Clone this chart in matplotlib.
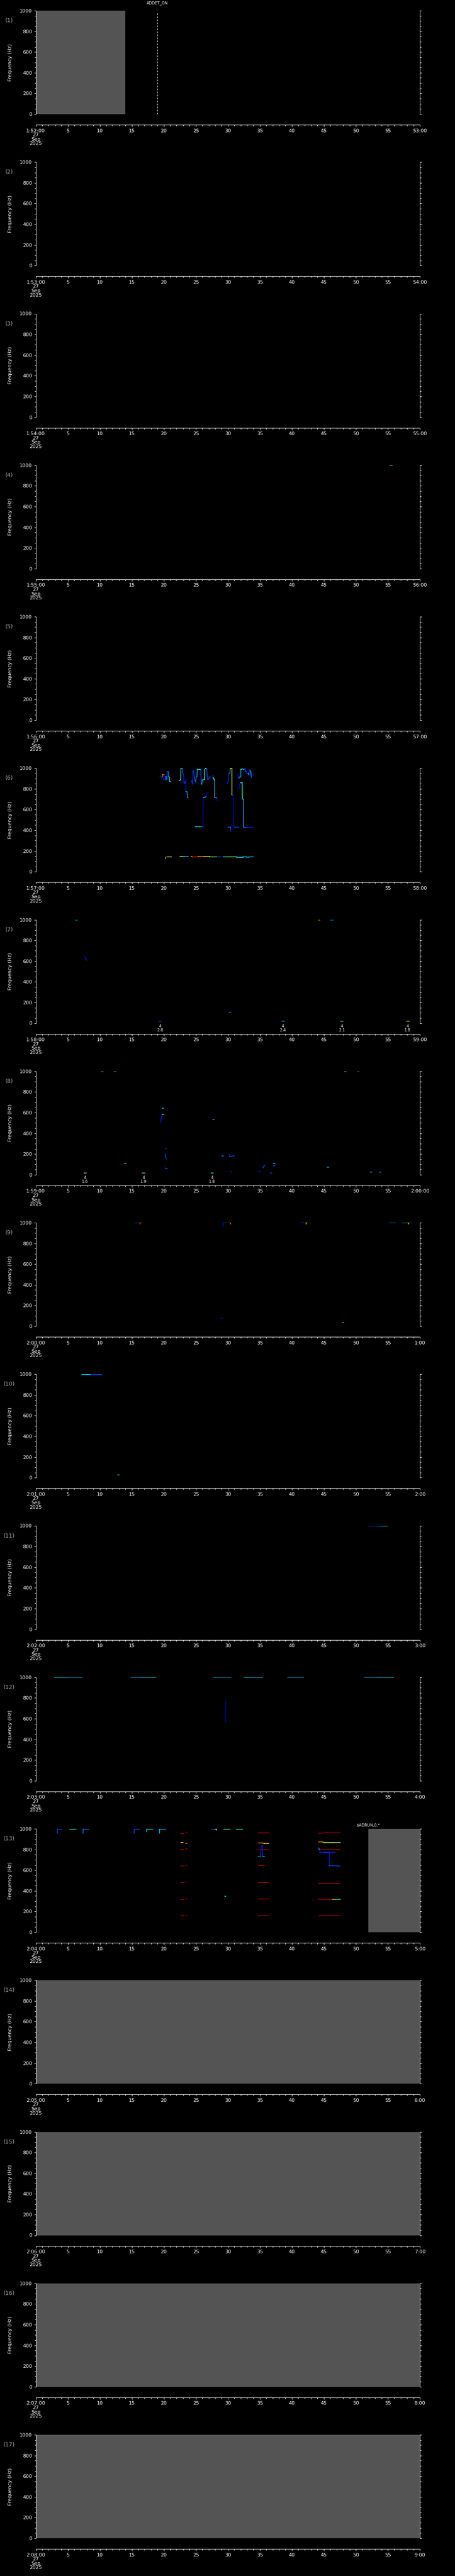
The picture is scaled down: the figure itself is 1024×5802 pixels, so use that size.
import matplotlib
matplotlib.use('Agg')
import matplotlib.pyplot as plt
from matplotlib.collections import LineCollection
from matplotlib.ticker import MultipleLocator

# ---- layout (pixels of the 1024 x 5802 output) ----
W, H = 1024, 5802
PANEL_H = 341.25
PLOT_TOP = 24
PLOT_H = 233
LEFT = 80.5
PLOT_W = 864.5

# ---- axis labels ----
start_labels = ['1:52:00', '1:53:00', '1:54:00', '1:55:00', '1:56:00', '1:57:00',
                '1:58:00', '1:59:00', '2:00:00', '2:01:00', '2:02:00', '2:03:00',
                '2:04:00', '2:05:00', '2:06:00', '2:07:00', '2:08:00']
end_labels = ['53:00', '54:00', '55:00', '56:00', '57:00', '58:00', '59:00', '2:00:00',
              '1:00', '2:00', '3:00', '4:00', '5:00', '6:00', '7:00', '8:00', '9:00']
date_label = '27\nSep\n2025'

# gray "no data" spans: (panel, start s, end s)
gray_spans = [(1, 0, 14), (13, 51.95, 60), (14, 0, 60), (15, 0, 60), (16, 0, 60), (17, 0, 60)]

# event markers: (panel, time s, label, dashed line?)
events = [(1, 19.0, 'ADDET_ON', True), (13, 51.95, '$ADRUN,0,*', False)]

# ---- traces: (times s, freqs Hz, jet level per vertex) ----
traces_p4 = [([55.3, 55.7], [998, 998], 0.45)]

traces_p6 = [
    ([19.40, 19.75, 19.82, 20.05, 20.05, 20.21, 20.21, 20.39, 20.39, 20.53, 20.53, 20.74, 20.74, 20.86, 20.90, 21.09],
     [915, 915, 939, 937, 887, 887, 918, 918, 894, 894, 965, 965, 918, 915, 872, 869],
     [0.2, 0.75, 0.75, 0.15, 0.15, 0.2, 0.2, 0.25, 0.25, 0.2, 0.2, 0.25, 0.3, 0.35, 0.35, 0.35]),
    ([22.41, 22.64, 22.68, 22.87, 22.92, 22.98, 23.10, 23.12, 23.29, 23.33, 23.45, 23.45, 23.63, 23.68, 23.79],
     [879, 889, 998, 998, 987, 944, 941, 858, 854, 872, 887, 775, 772, 718, 715],
     [0.5, 0.4, 0.35, 0.3, 0.2, 0.2, 0.15, 0.15, 0.2, 0.2, 0.12, 0.3, 0.3, 0.8, 0.8]),
    ([24.26, 24.42, 24.44, 24.56, 24.56, 24.67, 24.72, 24.84, 24.90, 25.02, 25.11, 25.18, 25.23, 25.48, 25.53,
      25.78, 25.83, 25.95, 25.99, 26.34, 26.34, 26.45, 26.52, 26.64, 26.71, 26.76, 26.85, 27.03, 27.08, 27.26],
     [875, 875, 847, 847, 975, 975, 918, 912, 879, 865, 918, 922, 990, 990, 987,
      987, 847, 847, 887, 889, 984, 994, 998, 998, 987, 937, 894, 894, 915, 915],
     [0.2, 0.2, 0.15, 0.15, 0.15, 0.2, 0.2, 0.25, 0.25, 0.2, 0.2, 0.3, 0.35, 0.5, 0.35,
      0.2, 0.3, 0.3, 0.35, 0.4, 0.35, 0.4, 0.38, 0.3, 0.2, 0.2, 0.2, 0.2, 0.25, 0.25]),
    ([27.61, 27.68, 27.68, 27.80, 27.87, 27.96, 27.96, 28.12, 28.19, 28.31, 28.35],
     [932, 932, 905, 905, 887, 887, 718, 718, 712, 712, 689],
     [0.15, 0.15, 0.3, 0.5, 0.35, 0.3, 0.3, 0.8, 0.8, 0.1, 0.1]),
    ([24.88, 25.07, 25.71, 25.81, 26.11, 26.15, 26.52, 26.64, 26.73, 26.80],
     [436, 433, 433, 436, 436, 718, 722, 722, 762, 762],
     [0.35, 0.35, 0.3, 0.25, 0.12, 0.4, 0.35, 0.12, 0.12, 0.12]),
    ([29.92, 29.99, 30.11, 30.11, 30.32, 30.39, 30.62, 30.62, 30.73, 30.85, 30.87, 31.08, 31.71],
     [854, 872, 872, 947, 951, 998, 998, 744, 739, 739, 436, 429, 429],
     [0.15, 0.15, 0.15, 0.2, 0.3, 0.6, 0.6, 0.6, 0.1, 0.1, 0.1, 0.2, 0.25]),
    ([30.04, 30.46, 30.46, 30.57], [429, 429, 393, 393], [0.25, 0.2, 0.1, 0.1]),
    ([31.57, 31.61, 31.78, 31.85, 32.01, 32.01, 32.12, 32.24, 32.47, 32.59, 32.70, 32.77, 32.93, 33.00,
      33.23, 33.23, 33.35, 33.40, 33.51, 33.58, 33.63, 33.67, 33.74, 33.97],
     [944, 908, 904, 915, 915, 987, 990, 994, 987, 990, 998, 965, 965, 951,
      951, 937, 937, 987, 975, 975, 934, 912, 930, 930],
     [0.15, 0.2, 0.2, 0.3, 0.3, 0.35, 0.38, 0.35, 0.3, 0.2, 0.2, 0.15, 0.2, 0.2,
      0.4, 0.15, 0.15, 0.15, 0.15, 0.35, 0.2, 0.2, 0.15, 0.2]),
    ([31.78, 31.85, 31.94, 32.01, 32.24, 32.28, 32.42, 32.42, 32.93, 33.97],
     [804, 844, 858, 861, 861, 701, 701, 429, 426, 429],
     [0.1, 0.15, 0.2, 0.5, 0.4, 0.32, 0.3, 0.25, 0.15, 0.45]),
    ([20.21, 20.28, 20.28, 20.55, 21.20], [131, 131, 141, 141, 141], [0.45, 0.45, 0.85, 0.6, 0.6]),
    ([22.52, 22.9, 23.3, 23.84], [146, 146, 146, 146], [0.55, 0.4, 0.3, 0.3]),
    ([24.26, 24.42, 24.42, 25.34, 25.34, 26.3, 27.15, 27.15, 28.31],
     [146, 146, 141, 141, 146, 146, 146, 141, 141],
     [0.75, 0.75, 0.88, 0.88, 0.75, 0.65, 0.65, 0.5, 0.5]),
    ([28.37, 29.00], [141, 141], 0.2),
    ([29.28, 30.3, 31.43, 31.43, 32.35, 32.35, 32.93, 32.93, 33.28, 33.28, 33.97],
     [141, 141, 141, 137, 137, 141, 141, 137, 137, 141, 141],
     [0.45, 0.55, 0.45, 0.35, 0.35, 0.4, 0.4, 0.25, 0.25, 0.35, 0.35]),
]

traces_p7 = [
    ([6.2, 6.5], [998, 998], 0.35),
    ([7.68, 7.72, 7.85, 8.0], [642, 625, 615, 609], 0.15),
    ([44.2, 44.4], [998, 998], 0.65),
    ([46.0, 46.5], [998, 998], 0.3),
    ([30.25, 30.45], [104, 104], 0.25),
    ([19.2, 19.6], [18, 18], 0.2),
    ([38.4, 38.8], [18, 18], 0.3),
    ([47.6, 48.0], [18, 18], 0.4),
    ([57.9, 58.3], [18, 18], 0.65),
]
labels_p7 = [(19.4, '4\n2.8'), (38.6, '4\n2.4'), (47.8, '4\n2.1'), (58.1, '4\n1.8')]

traces_p8 = [
    ([10.25, 10.5], [997, 997], 0.35),
    ([12.25, 12.5], [997, 997], 0.35),
    ([19.75, 19.95], [643, 643], 0.35),
    ([19.56, 19.58, 19.65, 19.72, 19.78, 20.0], [501, 540, 560, 575, 583, 583], [0.15, 0.15, 0.15, 0.2, 0.4, 0.4]),
    ([20.2, 20.35], [251, 251], 0.2),
    ([20.21, 20.21, 20.3, 20.39], [205, 185, 170, 152], 0.2),
    ([20.2, 20.28, 20.6], [65, 58, 58], 0.2),
    ([13.85, 14.1], [109, 109], 0.35),
    ([27.65, 27.85], [535, 535], 0.3),
    ([29.05, 29.3], [179, 183], 0.3),
    ([30.3, 30.3, 30.45, 31.0], [190, 177, 177, 183], 0.2),
    ([30.45, 30.65], [28, 28], 0.15),
    ([34.85, 35.0], [35, 35], 0.15),
    ([35.5, 35.55, 35.7, 35.8], [67, 75, 88, 93], 0.2),
    ([37.1, 37.4], [109, 109], 0.35),
    ([37.1, 37.4], [83, 83], 0.2),
    ([36.6, 36.9], [15, 15], 0.2),
    ([45.5, 45.8], [73, 73], 0.3),
    ([52.2, 52.5], [25, 25], 0.3),
    ([53.7, 53.9], [25, 25], 0.3),
    ([48.2, 48.5], [997, 997], 0.45),
    ([50.3, 50.5], [997, 997], 0.8),
    ([7.5, 7.9], [15, 15], 0.55),
    ([16.65, 17.05], [15, 15], 0.4),
    ([27.35, 27.75], [15, 15], 0.4),
]
labels_p8 = [(7.7, '4\n1.6'), (16.85, '4\n1.9'), (27.55, '4\n1.8')]

traces_p9 = [
    ([15.35, 16.2, 16.52], [998, 998, 998], [0.2, 0.8, 0.8]),
    ([16.3, 16.3], [998, 985], 0.8),
    ([29.25, 29.25, 30.3, 30.46], [963, 998, 998, 998], [0.15, 0.2, 0.8, 0.8]),
    ([30.4, 30.4], [998, 985], 0.8),
    ([41.25, 42.1, 42.42], [998, 998, 998], [0.2, 0.6, 0.4]),
    ([42.2, 42.2], [998, 985], 0.6),
    ([55.2, 56.25], [998, 998], 0.25),
    ([57.3, 58.2, 58.5], [998, 998, 998], [0.35, 0.6, 0.35]),
    ([58.2, 58.2], [998, 985], 0.6),
    ([28.9, 29.05], [79, 79], 0.15),
    ([47.85, 48.05], [33, 33], 0.35),
]

traces_p10 = [
    ([7.2, 8.6, 10.3], [998, 998, 998], [0.35, 0.2, 0.2]),
    ([12.8, 13.0], [27, 27], 0.35),
]

traces_p11 = [([51.9, 53.6, 55.0], [998, 998, 998], [0.2, 0.35, 0.35])]

traces_p12 = [
    ([2.9, 4.8, 7.3], [998, 998, 998], [0.35, 0.3, 0.3]),
    ([14.9, 16.5, 18.8], [998, 998, 998], [0.3, 0.35, 0.35]),
    ([27.7, 30.5], [998, 998], 0.3),
    ([32.5, 35.4], [998, 998], 0.35),
    ([39.3, 41.8], [998, 998], 0.3),
    ([51.3, 53.5, 55.9], [998, 998, 998], [0.3, 0.35, 0.35]),
    ([29.7, 29.7], [780, 560], 0.04),
]

traces_p13 = [
    ([3.39, 3.39, 4.05], [956, 996, 996], 0.2),
    ([5.30, 6.27], [996, 996], 0.38),
    ([7.37, 7.37, 8.26], [956, 996, 996], 0.25),
    ([15.35, 15.35, 16.24], [956, 996, 996], 0.2),
    ([17.30, 17.30, 18.27], [974, 996, 996], 0.35),
    ([19.32, 19.32, 20.30], [956, 996, 996], 0.32),
    ([27.42, 28.0, 28.2, 28.2], [996, 996, 996, 988], [0.2, 0.6, 0.6, 0.6]),
    ([29.37, 30.34], [996, 996], 0.38),
    ([31.32, 32.29], [996, 996], 0.38),
    ([29.5, 29.7], [349, 349], 0.38),
    # harmonic lines, first group
    ([22.67, 23.14], [952, 952], 0.95), ([23.4, 23.64], [962, 962], 0.95),
    ([22.67, 23.0], [867, 867], 0.65), ([23.4, 23.64], [857, 857], 0.75),
    ([22.67, 23.14], [800, 800], 0.95), ([23.4, 23.64], [808, 808], 0.95),
    ([22.67, 23.14], [641, 641], 0.95), ([23.4, 23.64], [648, 648], 0.95),
    ([22.67, 23.14], [479, 479], 0.95), ([23.4, 23.64], [486, 486], 0.95),
    ([22.67, 23.14], [318, 318], 0.95), ([23.4, 23.64], [322, 322], 0.95),
    ([22.67, 23.14], [157, 157], 0.95), ([23.4, 23.64], [157, 157], 0.95),
    # harmonic lines, second group
    ([34.74, 35.72, 36.38], [960, 960, 960], 0.95),
    ([34.74, 35.4, 35.72, 36.38], [862, 862, 859, 859], [0.75, 0.65, 0.65, 0.65]),
    ([34.74, 36.38], [800, 800], 0.95),
    ([34.74, 35.72], [645, 645], 0.95),
    ([34.74, 35.72, 36.38], [480, 480, 480], 0.95),
    ([34.74, 35.72, 36.38], [320, 320, 320], 0.95),
    ([34.74, 35.72, 36.38], [157, 157, 157], 0.95),
    ([34.74, 35.12, 35.21, 35.21, 35.4, 35.4, 35.72], [728, 728, 832, 832, 832, 728, 728],
     [0.3, 0.15, 0.15, 0.15, 0.15, 0.35, 0.35]),
    # harmonic lines, third group
    ([44.17, 45.14, 47.56], [956, 960, 960], 0.95),
    ([44.17, 44.6, 45.1, 46.5, 47.56], [872, 874, 868, 868, 868], [0.75, 0.7, 0.6, 0.55, 0.38]),
    ([44.17, 45.14, 47.56], [795, 800, 800], 0.95),
    ([44.17, 47.56], [473, 473], 0.95),
    ([44.17, 46.3, 46.8, 47.56], [316, 316, 316, 316], [0.95, 0.7, 0.4, 0.38]),
    ([44.17, 47.56], [157, 157], 0.95),
    ([44.17, 44.35, 44.35, 45.0, 45.0, 45.84, 45.84, 47.56],
     [815, 795, 771, 771, 771, 771, 643, 640],
     [0.3, 0.15, 0.15, 0.15, 0.3, 0.15, 0.2, 0.45]),
    ([45.0, 45.84, 45.84, 46.8], [771, 771, 771, 771], 0.15),
]

panel_traces = {4: traces_p4, 6: traces_p6, 7: traces_p7, 8: traces_p8, 9: traces_p9,
                10: traces_p10, 11: traces_p11, 12: traces_p12, 13: traces_p13}
panel_labels = {7: labels_p7, 8: labels_p8}

GRAY = '#545454'
PANEL_NUM_COLOR = '#a8a8a8'
cmap = plt.get_cmap('jet')

fig = plt.figure(figsize=(W / 100, H / 100), dpi=100, facecolor='black')

for i in range(17):
    pnum = i + 1
    top = PLOT_TOP + i * PANEL_H
    ax = fig.add_axes([LEFT / W, 1 - (top + PLOT_H) / H, PLOT_W / W, PLOT_H / H])
    ax.set_facecolor('black')
    ax.set_xlim(0, 60)
    ax.set_ylim(0, 1000)

    for side in ('left', 'right', 'bottom'):
        ax.spines[side].set_color('white')
        ax.spines[side].set_linewidth(0.75)
    ax.spines['top'].set_visible(False)
    ax.spines['bottom'].set_position(('outward', 24 * 0.72))

    ax.xaxis.set_major_locator(MultipleLocator(5))
    ax.xaxis.set_minor_locator(MultipleLocator(1))
    ax.yaxis.set_major_locator(MultipleLocator(200))
    ax.yaxis.set_minor_locator(MultipleLocator(50))
    xlabels = [start_labels[i] + '\n' + date_label] + [str(s) for s in range(5, 60, 5)] + [end_labels[i]]
    ax.set_xticks(range(0, 61, 5))
    ax.set_xticklabels(xlabels)
    for lab in ax.get_xticklabels():
        lab.set_linespacing(0.95)

    ax.tick_params(axis='x', which='major', direction='out', length=3.2, width=0.75,
                   colors='white', labelsize=8, pad=3)
    ax.tick_params(axis='x', which='minor', direction='out', length=2.0, width=0.75, colors='white')
    ax.tick_params(axis='y', which='major', direction='out', length=3.0, width=0.75,
                   colors='white', labelsize=8, pad=3, right=True, labelright=False)
    ax.tick_params(axis='y', which='minor', direction='out', length=2.0, width=0.75,
                   colors='white', right=True)

    for (p, t0, t1) in gray_spans:
        if p == pnum:
            ax.axvspan(t0, t1, color=GRAY, lw=0, zorder=0)

    for (p, t, txt, dashed) in events:
        if p != pnum:
            continue
        if dashed:
            ax.vlines(t, 0, 977, colors='white', linewidth=0.75, linestyles=(0, (3.6, 2.9)))
            fig.text((LEFT + t / 60 * PLOT_W) / W, 1 - (top - 17.5) / H, txt,
                     color='white', fontsize=6.3, ha='center', va='center')
        else:
            fig.text((LEFT + t / 60 * PLOT_W) / W, 1 - (top - 8) / H, txt,
                     color='white', fontsize=6.3, ha='center', va='center')

    for (tt, ff, cc) in panel_traces.get(pnum, []):
        if not isinstance(cc, list):
            cc = [cc] * len(tt)
        segs = [[(tt[k], ff[k]), (tt[k + 1], ff[k + 1])] for k in range(len(tt) - 1)]
        lc = LineCollection(segs, colors=[cmap(c) for c in cc[:-1]], linewidths=1.1,
                            capstyle='projecting', zorder=3)
        ax.add_collection(lc)

    for (t, txt) in panel_labels.get(pnum, []):
        ax.annotate(txt, xy=(t, 0), xytext=(0, -1.5), textcoords='offset points',
                    ha='center', va='top', fontsize=6.5, color='white', linespacing=1.0,
                    annotation_clip=False)

    fig.text(20.7 / W, 1 - (top + 22.7) / H, '(%d)' % pnum, color=PANEL_NUM_COLOR,
             fontsize=9, ha='center', va='center')
    fig.text(23.3 / W, 1 - (top + PLOT_H / 2) / H, 'Frequency (Hz)', color='white',
             fontsize=8, rotation=90, ha='center', va='center')

fig.savefig('out.png', dpi=100, facecolor='black')
